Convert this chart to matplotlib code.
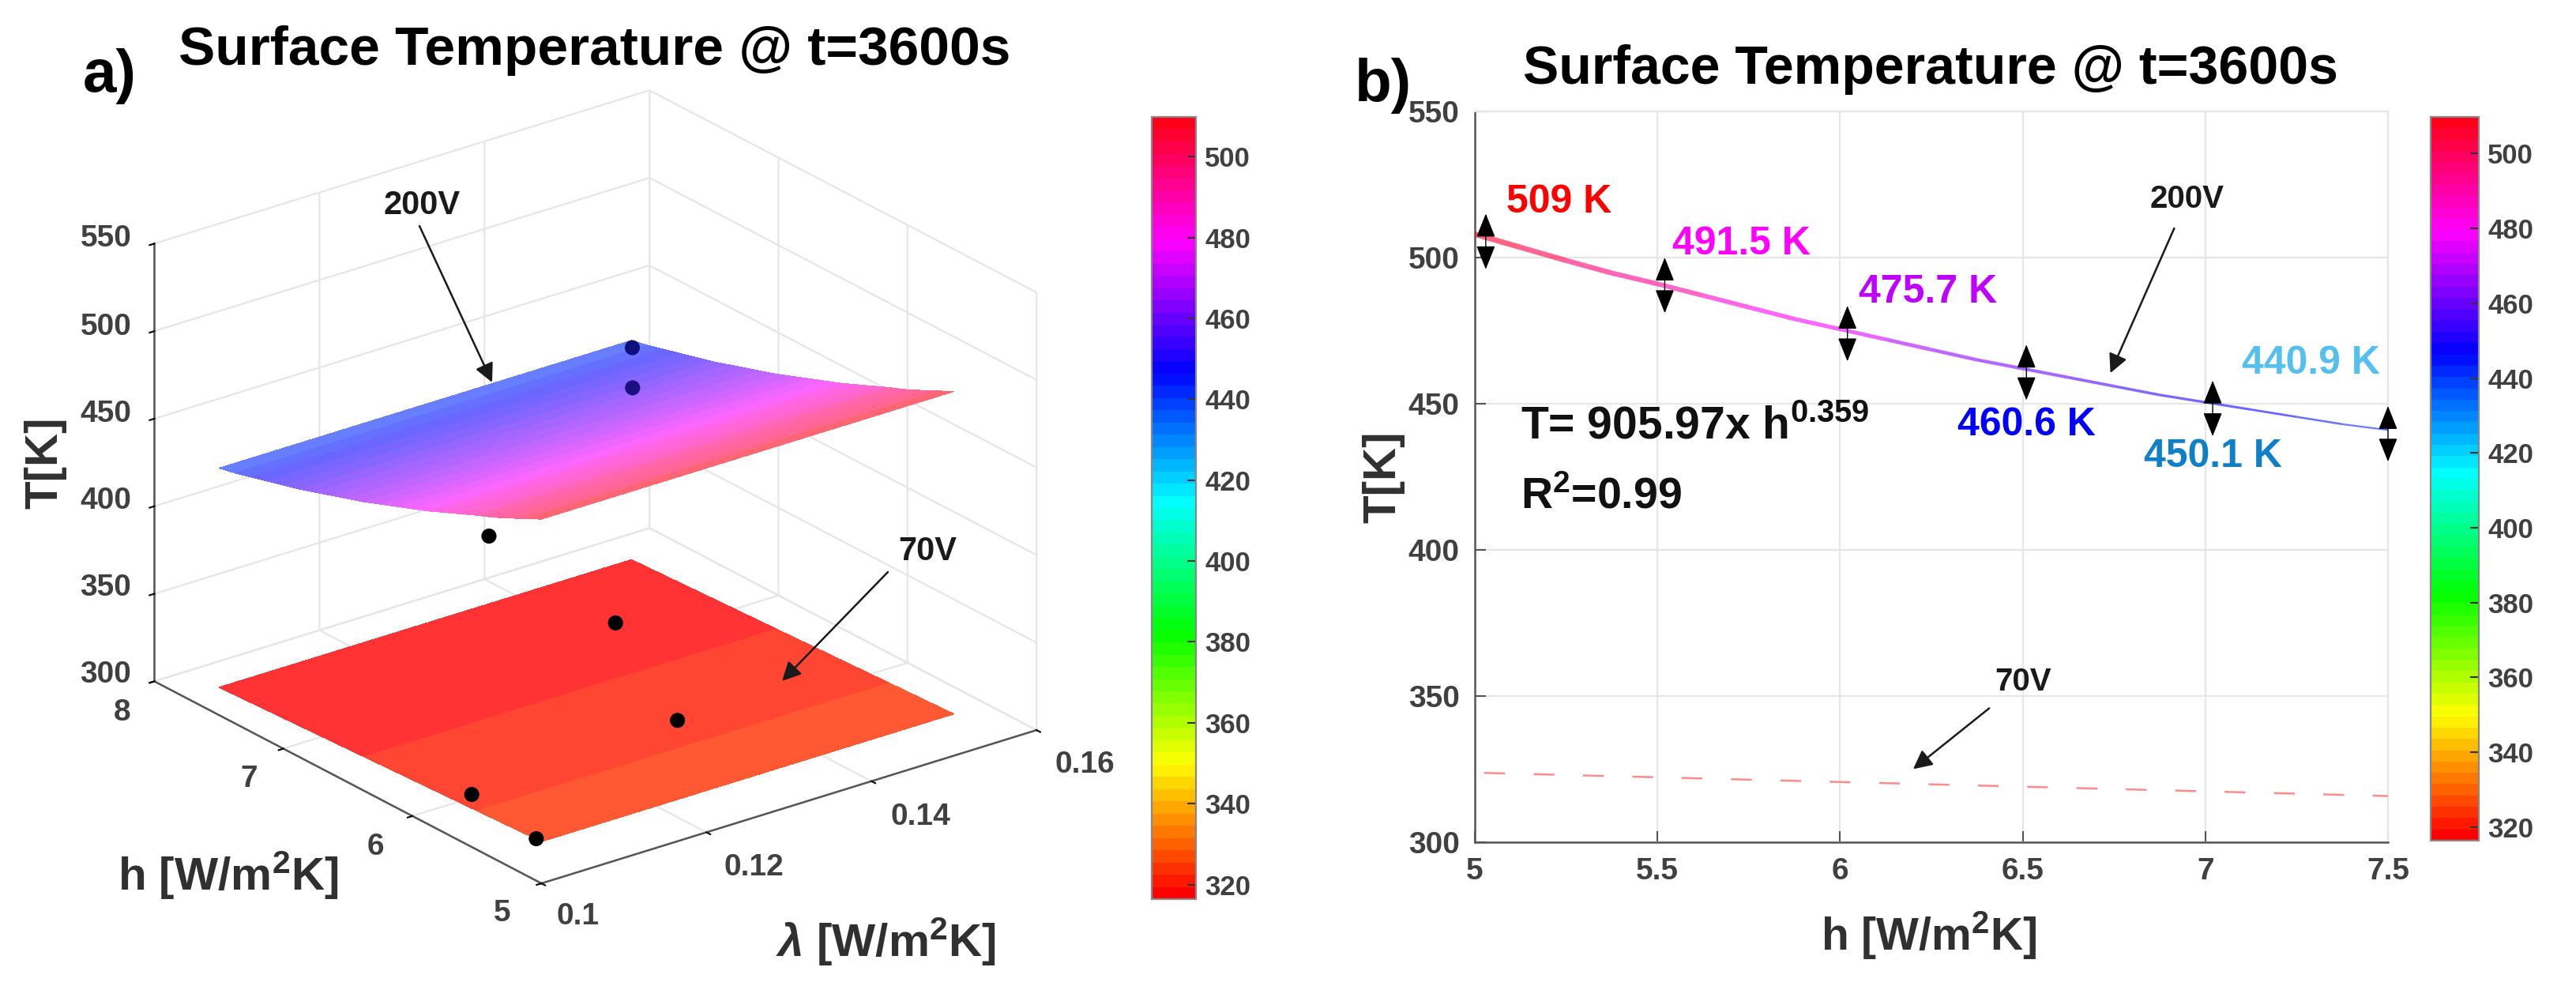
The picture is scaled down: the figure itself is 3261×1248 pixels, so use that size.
"""Surface temperature at t=3600s: 3D surfaces (a) and fitted curves (b)."""

import numpy as np
import matplotlib
matplotlib.use("Agg")
import matplotlib.pyplot as plt
from matplotlib.cm import ScalarMappable
from matplotlib.collections import LineCollection
from matplotlib.colors import Normalize
from matplotlib.patches import FancyArrowPatch

W, H = 3261, 1248

h_grid = [5.0, 5.125, 5.25, 5.375, 5.5, 5.625, 5.75, 5.875, 6.0, 6.125, 6.25,
          6.375, 6.5, 6.625, 6.75, 6.875, 7.0, 7.125, 7.25, 7.375, 7.5]
t_200v = [508, 503.5, 499, 494.7, 491, 487, 483, 479, 475.5, 472, 468.5,
          465, 462, 459, 456, 453, 450.5, 448, 445.5, 443, 441]
t_70v = [323.8, 323.4, 323.0, 322.6, 322.2, 321.8, 321.4, 321.0, 320.6, 320.2, 319.8,
         319.4, 319.0, 318.6, 318.2, 317.8, 317.4, 317.0, 316.6, 316.2, 315.8]
lam_grid = [0.10, 0.15]

dots_lam = [0.1365, 0.1345, 0.116, 0.139, 0.129, 0.100, 0.100]
dots_h = [6.63, 6.50, 6.43, 6.92, 5.80, 5.54, 5.04]
dots_t = [490, 475, 420, 318, 320, 330, 324]
dots_col = ["#10107a", "#1c1080", "black", "black", "black", "black", "black"]

err_h = [5.03, 5.52, 6.02, 6.51, 7.02, 7.50]
err_t = [505.5, 490.5, 474, 460.7, 448.4, 439.7]
err_half = 9.5

temp_labels = ["509 K", "491.5 K", "475.7 K", "460.6 K", "450.1 K", "440.9 K"]
temp_label_h = [5.23, 5.73, 6.24, 6.51, 7.02, 7.29]
temp_label_t = [519, 504.7, 488, 442.6, 432, 463.7]
temp_label_col = ["#ff0000", "#ff00ff", "#c000ff", "#0000ff", "#0f7fc8", "#55c0f0"]

lam_ticks = [0.1, 0.12, 0.14, 0.16]
lam_tick_labels = ["0.1", "0.12", "0.14", "0.16"]
h3d_ticks = [5, 6, 7, 8]
t_ticks = [300, 350, 400, 450, 500, 550]
cbar_ticks = [320, 340, 360, 380, 400, 420, 440, 460, 480, 500]
t_min, t_max = 316.4, 509.8

TICK_GRAY = "#404040"
AXIS_GRAY = "#555555"
GRID_GRAY = "#e6e6e6"

plt.rcParams["font.family"] = ["Liberation Sans", "DejaVu Sans"]
plt.rcParams["font.weight"] = "bold"
plt.rcParams["mathtext.fontset"] = "custom"
plt.rcParams["mathtext.rm"] = "Liberation Sans:bold"
plt.rcParams["mathtext.bf"] = "Liberation Sans:bold"
plt.rcParams["mathtext.it"] = "Liberation Sans:italic"
plt.rcParams["grid.color"] = GRID_GRAY
plt.rcParams["grid.linewidth"] = 1.6

cmap = plt.get_cmap("hsv", 64)
norm = Normalize(t_min, t_max)


def rect(x0, y0, x1, y1):
    """Pixel box measured from the top left corner -> figure fractions."""
    return [x0 / W, 1 - y1 / H, (x1 - x0) / W, (y1 - y0) / H]


def fig_xy(x, y):
    return x / W, 1 - y / H


def fig_label(fig, x, y, s, size, **kw):
    fx, fy = fig_xy(x, y)
    fig.text(fx, fy, s, fontsize=size, ha=kw.pop("ha", "center"),
             va=kw.pop("va", "center"), **kw)


def fig_arrow(fig, start, end):
    fig.add_artist(FancyArrowPatch(fig_xy(*start), fig_xy(*end),
                                   transform=fig.transFigure,
                                   arrowstyle="-|>", mutation_scale=36,
                                   shrinkA=0, shrinkB=0, lw=1.8, color="#1a1a1a"))


def add_colorbar(fig, box):
    cax = fig.add_axes(rect(*box))
    cb = fig.colorbar(ScalarMappable(norm=norm, cmap=cmap), cax=cax)
    cb.set_ticks(cbar_ticks)
    cax.tick_params(direction="in", length=8, width=1.5, color="#333333",
                    labelsize=25, labelcolor=TICK_GRAY, pad=8)
    cb.outline.set_edgecolor("#888888")
    cb.outline.set_linewidth(1.6)


def surface_colors(temps, alpha):
    # blended on white up front: real transparency leaves seams between facets
    rgba = cmap(norm(np.column_stack([temps, temps])[:-1, :-1]))
    rgba[..., :3] = rgba[..., :3] * alpha + (1 - alpha)
    return rgba


fig = plt.figure(figsize=(W / 100, H / 100), dpi=100, facecolor="white")

# ---- a) 3D view -----------------------------------------------------------
ax3 = fig.add_axes(rect(116, 12, 116 + 1242, 12 + 1242), projection="3d",
                   proj_type="ortho", computed_zorder=False)
ax3.view_init(elev=23.7, azim=-127.6)
ax3.set_box_aspect((791, 803, 605))
ax3.patch.set_alpha(0)

ax3.set_xlim(0.1, 0.16)
ax3.set_ylim(5, 8)
ax3.set_zlim(300, 550)
ax3.set_xticks(lam_ticks)
ax3.set_yticks(h3d_ticks)
ax3.set_zticks(t_ticks)
ax3.set_xticklabels([])
ax3.set_yticklabels([])
ax3.set_zticklabels([])

for axis in (ax3.xaxis, ax3.yaxis, ax3.zaxis):
    axis.set_pane_color((1, 1, 1, 0))
    axis.pane.set_edgecolor("#d0d0d0")
    axis.line.set_color(AXIS_GRAY)
    axis.line.set_linewidth(1.8)
    axis._axinfo["tick"].update(inward_factor=0.12, outward_factor=0.0)
    axis._axinfo["tick"]["linewidth"] = {True: 1.5, False: 1.0}
    axis._axinfo["tick"]["color"] = AXIS_GRAY
ax3.zaxis.set_ticks_position("upper")

lam_mesh, h_mesh = np.meshgrid(lam_grid, h_grid)
ax3.plot_surface(lam_mesh, h_mesh, np.column_stack([t_70v, t_70v]),
                 facecolors=surface_colors(t_70v, 0.8), shade=False,
                 linewidth=0, antialiased=False, rstride=1, cstride=1, zorder=2)
ax3.plot_surface(lam_mesh, h_mesh, np.column_stack([t_200v, t_200v]),
                 facecolors=surface_colors(t_200v, 0.6), shade=False,
                 linewidth=0, antialiased=False, rstride=1, cstride=1, zorder=3)
ax3.scatter(dots_lam, dots_h, dots_t, c=dots_col, s=190, depthshade=False,
            linewidths=0, zorder=4)

# tick labels of the 3D box sit by hand, mplot3d cannot offset them freely
for s, x, y in zip(lam_tick_labels, [732, 954, 1165, 1373], [1160, 1098, 1034, 968]):
    fig_label(fig, x, y, s, 28, color=TICK_GRAY)
for v, x, y in zip(h3d_ticks, [636, 475, 315, 155], [1156, 1072, 986, 902]):
    fig_label(fig, x, y, str(v), 28, color=TICK_GRAY)
for v, y in zip(t_ticks, [854, 744, 634, 524, 414, 302]):
    fig_label(fig, 134, y, str(v), 28, color=TICK_GRAY)

fig_label(fig, 139, 96, "a)", 55)
fig_label(fig, 753, 64, "Surface Temperature @ t=3600s", 50)
fig_label(fig, 57, 586, "T[K]", 42, rotation=90, color="#303030")
fig_label(fig, 289, 1108, r"h [W/m$^2$K]", 42, color="#303030")
fig_label(fig, 1122, 1192, r"$\lambda$ [W/m$^2$K]", 42, color="#303030")
fig_label(fig, 534, 260, "200V", 30, color="#1a1a1a")
fig_label(fig, 1174, 698, "70V", 30, color="#1a1a1a")
fig_arrow(fig, (531, 286), (623, 484))
fig_arrow(fig, (1124, 724), (990, 862))
add_colorbar(fig, (1458, 148, 1514, 1138))

# ---- b) curves -------------------------------------------------------------
ax = fig.add_axes(rect(1867, 141, 3023, 1066))
ax.set_xlim(5, 7.5)
ax.set_ylim(300, 550)
ax.set_xticks([5, 5.5, 6, 6.5, 7, 7.5])
ax.set_xticklabels(["5", "5.5", "6", "6.5", "7", "7.5"])
ax.set_yticks(t_ticks)
ax.grid(True)
ax.set_axisbelow(True)
ax.tick_params(direction="in", length=10, width=1.5, color=AXIS_GRAY,
               labelsize=28, labelcolor=TICK_GRAY, pad=14)
for side in ("left", "bottom"):
    ax.spines[side].set_color(AXIS_GRAY)
    ax.spines[side].set_linewidth(1.8)
for side in ("top", "right"):
    ax.spines[side].set_color(GRID_GRAY)
    ax.spines[side].set_linewidth(1.6)

pts = np.column_stack([h_grid, t_200v])
segs = np.stack([pts[:-1], pts[1:]], axis=1)
seg_t = (np.array(t_200v[:-1]) + np.array(t_200v[1:])) / 2
seg_rgba = cmap(norm(seg_t))
seg_rgba[:, 3] = 0.6
ax.add_collection(LineCollection(segs, colors=seg_rgba,
                                 linewidths=np.linspace(5.0, 1.6, len(segs)),
                                 zorder=3))
ax.plot(h_grid, t_70v, color="#ff8a8a", lw=1.8, ls=(20.2, (10.5, 14.5)), zorder=3)

for x, t in zip(err_h, err_t):
    ax.annotate("", xy=(x, t + err_half), xytext=(x, t - err_half),
                arrowprops=dict(arrowstyle="<|-|>,head_length=0.5,head_width=0.2",
                                mutation_scale=38, lw=1.0, color="black",
                                shrinkA=0, shrinkB=0), zorder=4)

for s, x, t, c in zip(temp_labels, temp_label_h, temp_label_t, temp_label_col):
    ax.text(x, t, s, color=c, fontsize=36, ha="center", va="center")

ax.text(5.125, 442, r"T= 905.97x h$^{0.359}$", fontsize=41, color="#111111",
        ha="left", va="center")
ax.text(5.125, 418, r"R$^2$=0.99", fontsize=40, color="#111111",
        ha="left", va="center")

ax.annotate("200V", xy=(6.74, 460.5), xytext=(6.95, 520), fontsize=29, color="#1a1a1a",
            ha="center", va="center",
            arrowprops=dict(arrowstyle="-|>", mutation_scale=36, lw=1.8,
                            color="#1a1a1a", shrinkA=12, shrinkB=0))
ax.annotate("70V", xy=(6.2, 325), xytext=(6.5, 355), fontsize=29, color="#1a1a1a",
            ha="center", va="center",
            arrowprops=dict(arrowstyle="-|>", mutation_scale=36, lw=1.8,
                            color="#1a1a1a", shrinkA=14, shrinkB=0))

fig_label(fig, 1751, 108, "b)", 55)
fig_label(fig, 2444, 88, "Surface Temperature @ t=3600s", 49)
fig_label(fig, 1751, 604, "T[K]", 42, rotation=90, color="#303030")
fig_label(fig, 2442, 1184, r"h [W/m$^2$K]", 41, color="#303030")
add_colorbar(fig, (3077, 148, 3138, 1064))

fig.savefig("out.png", dpi=100)
